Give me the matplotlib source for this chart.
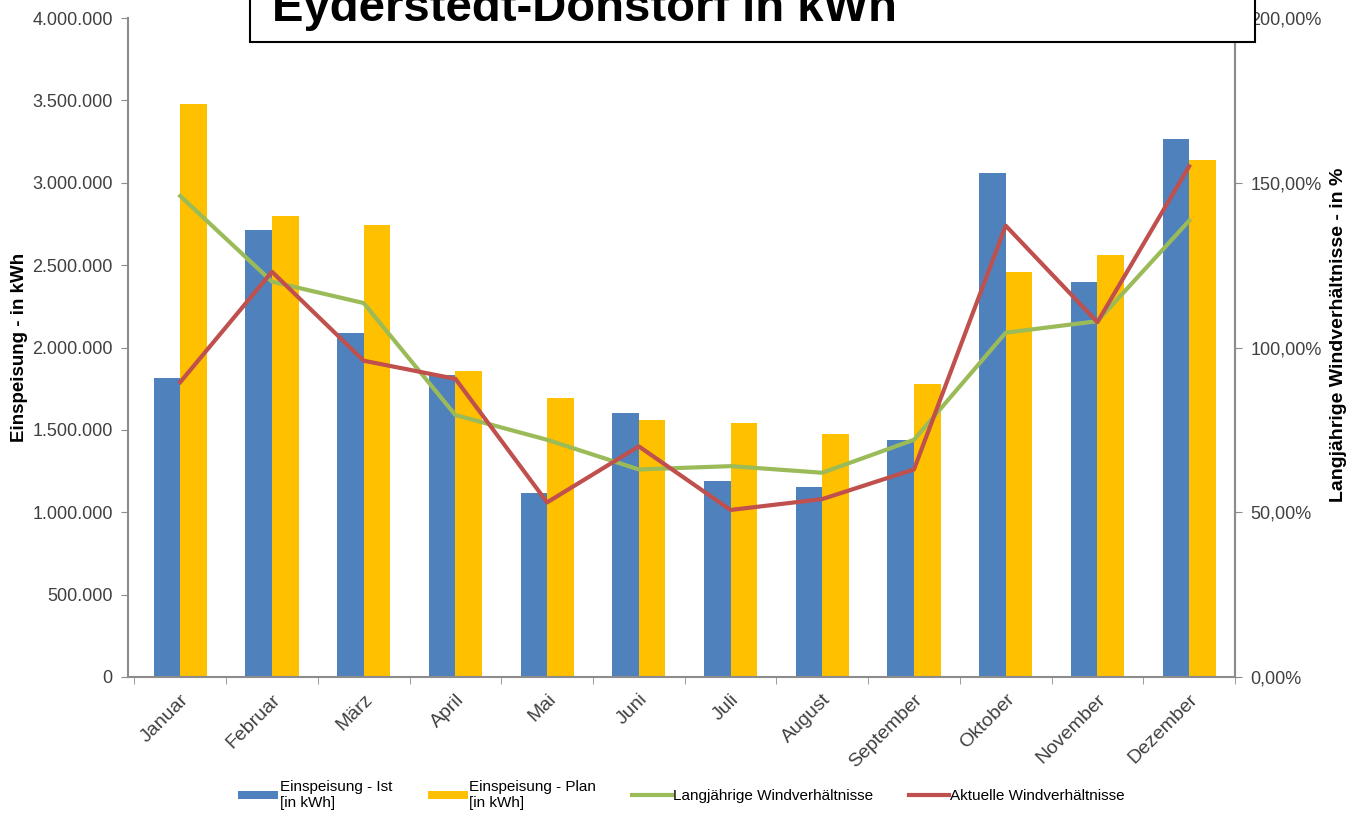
import matplotlib.pyplot as plt
import numpy as np
from matplotlib.ticker import FuncFormatter

# data
months = ["Januar", "Februar", "März", "April", "Mai", "Juni", "Juli",
          "August", "September", "Oktober", "November", "Dezember"]
ist = [1815000, 2715000, 2090000, 1835000, 1118000, 1600000, 1190000,
       1155000, 1440000, 3060000, 2400000, 3265000]
plan = [3478000, 2800000, 2745000, 1858000, 1695000, 1560000, 1542000,
        1477000, 1778000, 2460000, 2560000, 3140000]
wind_long = [146, 120, 113.5, 79.5, 72, 63, 64, 62, 72, 104.5, 108, 138.5]
wind_now = [89.5, 123, 96, 90.5, 53, 70, 50.7, 54, 63, 137, 107.7, 155]

BLUE = "#4F81BD"
YELLOW = "#FFC000"
GREEN = "#9BBB59"
RED = "#C0504D"
GREY = "#8c8c8c"
TXT = "#404040"

plt.rcParams['font.family'] = ['Liberation Sans', 'DejaVu Sans']

fig = plt.figure(figsize=(13.5, 8.22), dpi=100)
ax = fig.add_axes([0.0948, 0.1764, 0.82, 0.8016])
x = np.arange(len(months))
w = 0.29

ax.bar(x - w / 2, ist, w, color=BLUE, label="Einspeisung - Ist\n[in kWh]", zorder=2)
ax.bar(x + w / 2, plan, w, color=YELLOW, label="Einspeisung - Plan\n[in kWh]", zorder=2)
ax.set_ylim(0, 4000000)
ax.set_xlim(-0.57, 11.5)
ax.set_yticks(np.arange(0, 4000001, 500000))
ax.yaxis.set_major_formatter(FuncFormatter(lambda v, p: f"{int(v):,}".replace(",", ".")))
ax.set_xticks(x)
ax.set_xticklabels(months, rotation=45, ha="right", rotation_mode="anchor", fontsize=14, color=TXT)
ax.set_xticks(np.arange(-0.5, 12, 1), minor=True)
ax.tick_params(axis="x", which="major", length=0, pad=10)
ax.tick_params(axis="x", which="minor", length=5, color=GREY, direction="out")
ax.tick_params(axis="y", length=5, color=GREY, labelsize=13, labelcolor=TXT, pad=6)
ax.set_ylabel("Einspeisung - in kWh", fontsize=13.5, fontweight="bold", labelpad=4)
ax.yaxis.set_label_coords(-0.090, 0.5)
for s in ["top"]:
    ax.spines[s].set_visible(False)
for s in ["left", "bottom", "right"]:
    ax.spines[s].set_color(GREY)
    ax.spines[s].set_linewidth(1.5)

ax2 = ax.twinx()
ax2.plot(x, wind_long, color=GREEN, lw=3, label="Langjährige Windverhältnisse", zorder=3)
ax2.plot(x, wind_now, color=RED, lw=3, label="Aktuelle Windverhältnisse", zorder=4)
ax2.set_ylim(0, 200)
ax2.set_yticks(np.arange(0, 201, 50))
ax2.yaxis.set_major_formatter(FuncFormatter(lambda v, p: f"{v:.2f}".replace(".", ",") + "%"))
ax2.tick_params(axis="y", length=5, color=GREY, labelsize=13, labelcolor=TXT, pad=6)
ax2.set_ylabel("Langjährige Windverhältnisse - in %", fontsize=14, fontweight="bold",
               rotation=90, labelpad=4)
ax2.yaxis.set_label_coords(1.086, 0.52)
for s in ["top", "left", "bottom"]:
    ax2.spines[s].set_visible(False)
ax2.spines["right"].set_color(GREY)
ax2.spines["right"].set_linewidth(1.5)

# title box, cut at the top like in the reference
fig.patches.append(plt.Rectangle((250 / 1350, 1 - 42 / 822), 1005 / 1350, 60 / 822,
                                 transform=fig.transFigure, fill=True, facecolor="white",
                                 edgecolor="black", lw=1.5, zorder=10))
fig.text(272 / 1350, 1 - 21 / 822, "Eyderstedt-Donstorf in kWh", fontsize=34,
         fontweight="bold", va="baseline", ha="left", zorder=11)

h1, l1 = ax.get_legend_handles_labels()
h2, l2 = ax2.get_legend_handles_labels()
fig.legend(h1 + h2, l1 + l2, loc="center", bbox_to_anchor=(0.505, 0.033), ncol=4,
           frameon=False, fontsize=11, handlelength=2.6, handleheight=0.5,
           columnspacing=2.35, handletextpad=0.1)

fig.savefig("out.png", dpi=100)
